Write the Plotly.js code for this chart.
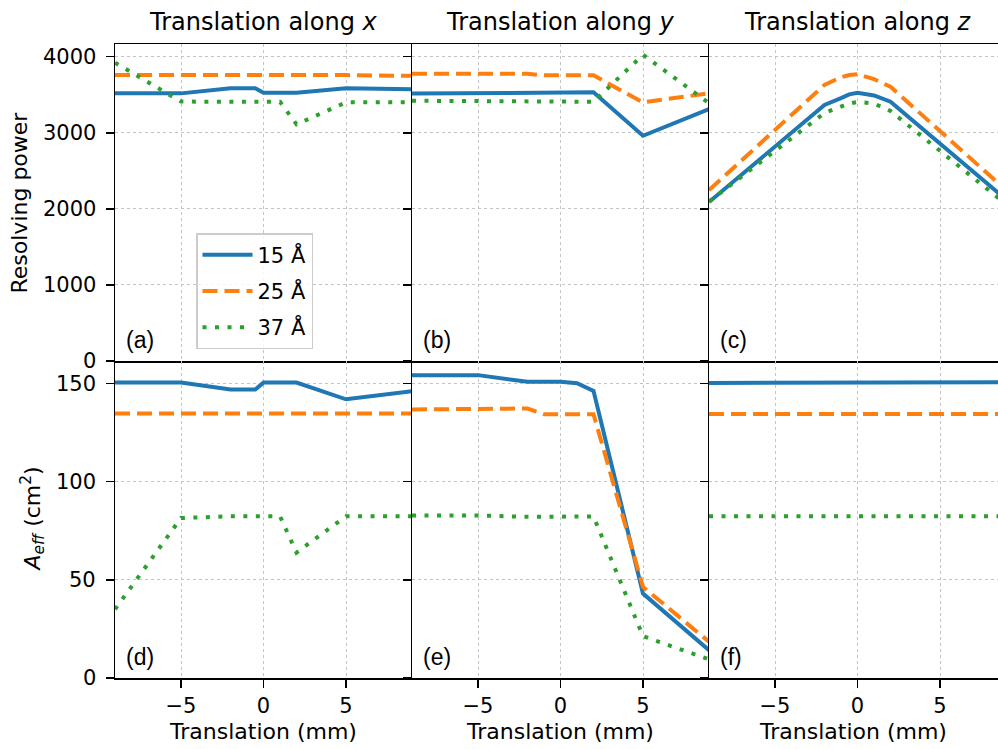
<!DOCTYPE html>
<html>
<head>
<meta charset="utf-8">
<script src="https://cdn.plot.ly/plotly-3.0.1.min.js"></script>
<style>html,body{margin:0;padding:0;background:#fff;}#chart{width:998px;height:749px;}</style>
</head>
<body>
<div id="chart"></div>
<script>
// Translation positions (mm)
const xPos = [-9, -5, -2, -1, -0.5, 0, 1, 2, 5, 9];

const seriesNames = ['15 Å', '25 Å', '37 Å'];
const colTitles = ['Translation along <i>x</i>', 'Translation along <i>y</i>', 'Translation along <i>z</i>'];
const panelLabels = ['(a)', '(b)', '(c)', '(d)', '(e)', '(f)'];
const xTicks = [-5, 0, 5];
const xTickText = ['\u22125', '0', '5'];
const rpTicks = [0, 1000, 2000, 3000, 4000];
const aeTicks = [0, 50, 100, 150];

// Resolving power, translation along x
const rpX_15 = [3518, 3518, 3584, 3584, 3584, 3526, 3526, 3526, 3584, 3571];
const rpX_25 = [3760, 3762, 3762, 3762, 3762, 3762, 3760, 3760, 3758, 3748];
const rpX_37 = [3921, 3410, 3408, 3408, 3408, 3408, 3408, 3111, 3400, 3400];
// Resolving power, translation along y
const rpY_15 = [3515, 3518, 3520, 3522, 3524, 3526, 3530, 3532, 2961, 3312];
const rpY_25 = [3776, 3776, 3776, 3755, 3755, 3755, 3755, 3755, 3400, 3518];
const rpY_37 = [3421, 3420, 3415, 3410, 3410, 3410, 3410, 3408, 4025, 3390];
// Resolving power, translation along z
const rpZ_15 = [2090, 2820, 3365, 3455, 3505, 3526, 3490, 3408, 2860, 2125];
const rpZ_25 = [2246, 3030, 3630, 3730, 3760, 3770, 3705, 3605, 3030, 2247];
const rpZ_37 = [2095, 2763, 3260, 3345, 3385, 3405, 3385, 3286, 2764, 2062];

// Effective area (cm^2), translation along x
const aeX_15 = [150.5, 150.5, 147, 147, 147, 150.5, 150.5, 150.5, 142, 146.1];
const aeX_25 = [134.7, 134.7, 134.7, 134.7, 134.7, 134.7, 134.7, 134.7, 134.7, 134.7];
const aeX_37 = [35, 81.5, 82.4, 82.4, 82.4, 82.4, 82.4, 63.9, 82.4, 82.4];
// Effective area, translation along y
const aeY_15 = [154.3, 154.3, 150.9, 150.9, 150.9, 150.9, 150.2, 146.3, 43, 14.2];
const aeY_25 = [136.8, 136.8, 137.3, 134.4, 134.4, 134.4, 134.4, 134.4, 46.4, 18.5];
const aeY_37 = [82.8, 82.8, 82.1, 82.2, 82.3, 82.3, 82.3, 82.3, 21.3, 9.5];
// Effective area, translation along z
const aeZ_15 = [150.3, 150.5, 150.6, 150.6, 150.6, 150.6, 150.7, 150.7, 150.7, 150.7];
const aeZ_25 = [134.5, 134.5, 134.5, 134.5, 134.5, 134.5, 134.5, 134.5, 134.5, 134.5];
const aeZ_37 = [82.4, 82.4, 82.4, 82.4, 82.4, 82.4, 82.4, 82.4, 82.4, 82.4];

const panels = [
  [rpX_15, rpX_25, rpX_37], [rpY_15, rpY_25, rpY_37], [rpZ_15, rpZ_25, rpZ_37],
  [aeX_15, aeX_25, aeX_37], [aeY_15, aeY_25, aeY_37], [aeZ_15, aeZ_25, aeZ_37]
];

const colors = ['#1f77b4', '#ff7f0e', '#2ca02c'];
const dashes = ['solid', '15px,7px', '4px,8.5px'];

const FONT = 'DejaVu Sans, sans-serif';
const traces = [];
panels.forEach((ser, p) => {
  const ax = p === 0 ? '' : String(p + 1);
  ser.forEach((vals, s) => {
    traces.push({
      type: 'scatter', mode: 'lines', x: xPos, y: vals,
      xaxis: 'x' + ax, yaxis: 'y' + ax,
      name: seriesNames[s], showlegend: p === 0, legendgroup: 'g' + s,
      line: {color: colors[s], width: 4, dash: dashes[s]},
      hoverinfo: 'skip'
    });
  });
});

const colDom = [[0, 297 / 883], [297 / 883, 594 / 883], [594 / 883, 1]];
const rowDom = [[0.5, 1], [0, 0.5]];
const layout = {
  width: 998, height: 749,
  margin: {l: 115, r: 0, t: 44, b: 71},
  paper_bgcolor: '#fff', plot_bgcolor: '#fff',
  font: {family: FONT, size: 21, color: '#000'},
  showlegend: true,
  legend: {
    x: 81 / 883, y: (678 - 233) / 634, xanchor: 'left', yanchor: 'top',
    bgcolor: 'rgba(255,255,255,0.85)', bordercolor: '#cccccc', borderwidth: 1.5,
    font: {family: FONT, size: 21}, tracegroupgap: 6, itemwidth: 50
  },
  annotations: []
};

for (let p = 0; p < 6; p++) {
  const row = p < 3 ? 0 : 1, col = p % 3;
  const ax = p === 0 ? '' : String(p + 1);
  const xr = col === 2 ? [-9, -9 + 289 / 16.5] : [-9, 9];
  layout['xaxis' + ax] = {
    domain: colDom[col], anchor: 'y' + ax, range: xr,
    tickvals: xTicks, ticktext: xTickText,
    showticklabels: row === 1, ticks: row === 1 ? 'outside' : '',
    ticklen: 8, tickwidth: 1.5, tickcolor: '#000',
    showline: true, mirror: row === 0, linecolor: '#000', linewidth: 1.5,
    showgrid: true, gridcolor: '#c4c4c4', griddash: 'dot', gridwidth: 1,
    zeroline: false, tickfont: {family: FONT, size: 21},
    title: row === 1 ? {text: 'Translation (mm)', font: {family: FONT, size: 22}, standoff: 7} : {text: ''}
  };
  layout['yaxis' + ax] = {
    domain: rowDom[row], anchor: 'x' + ax,
    range: row === 0 ? [0, 4167] : [0, 161.5],
    tickvals: row === 0 ? rpTicks : aeTicks,
    showticklabels: false, ticks: 'outside',
    ticklen: 8, tickwidth: 1.5, tickcolor: '#000',
    showline: true, mirror: false, linecolor: '#000', linewidth: 1.5,
    showgrid: true, gridcolor: '#c4c4c4', griddash: 'dot', gridwidth: 1,
    zeroline: false
  };
  layout.annotations.push({
    text: panelLabels[p], xref: 'x' + ax + ' domain', yref: 'y' + ax + ' domain',
    x: 9 / 297, y: 0.02, xanchor: 'left', yanchor: 'bottom', showarrow: false,
    font: {family: 'Liberation Sans, Arial, sans-serif', size: 23, color: '#000'}
  });
}

// y tick labels of the left column
[[rpTicks, 'y'], [aeTicks, 'y4']].forEach(([ticks, yref]) => {
  ticks.forEach(v => {
    layout.annotations.push({
      text: String(v), xref: 'paper', yref: yref, x: (98 - 115) / 883, y: v,
      xanchor: 'right', yanchor: 'middle', showarrow: false,
      font: {family: FONT, size: 21, color: '#000'}
    });
  });
});

colTitles.forEach((t, c) => {
  layout.annotations.push({
    text: t, xref: c === 0 ? 'x' : 'x' + (c + 1), yref: 'paper', x: 0, y: 1,
    xanchor: 'center', yanchor: 'bottom', yshift: 6, showarrow: false,
    font: {family: FONT, size: 24, color: '#000'}
  });
});

layout.annotations.push({
  text: 'Resolving power', xref: 'paper', yref: 'paper',
  x: (19 - 115) / 883, y: 0.75, xanchor: 'center', yanchor: 'middle',
  textangle: -90, showarrow: false, font: {family: FONT, size: 22, color: '#000'}
});
layout.annotations.push({
  text: '<i>A<sub>eff</sub></i> (cm<sup>2</sup>)', xref: 'paper', yref: 'paper',
  x: (32 - 115) / 883, y: 0.25, xanchor: 'center', yanchor: 'middle',
  textangle: -90, showarrow: false, font: {family: FONT, size: 22, color: '#000'}
});

Plotly.newPlot('chart', traces, layout, {displayModeBar: false, staticPlot: true});
</script>
</body>
</html>
